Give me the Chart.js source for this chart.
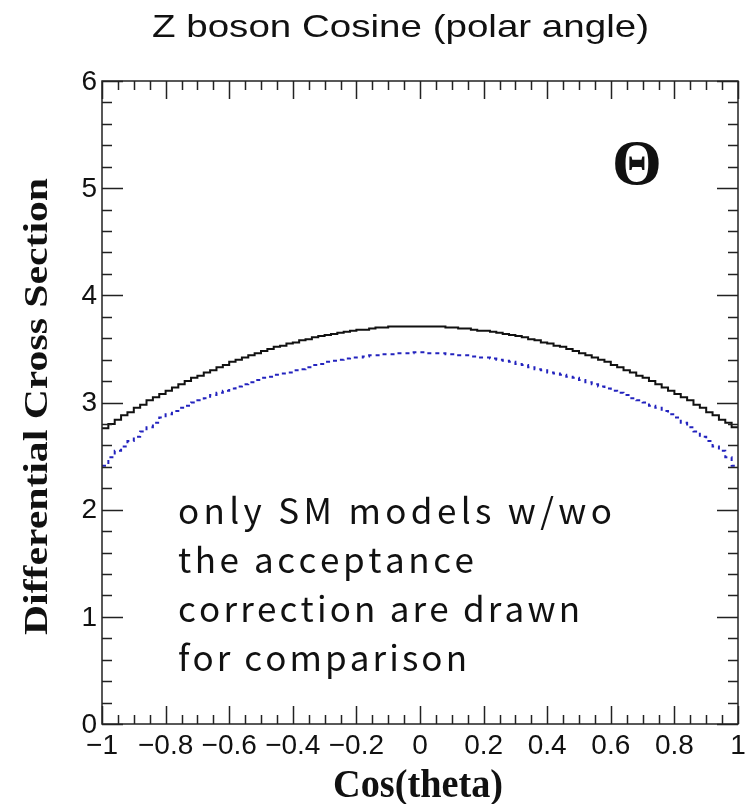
<!DOCTYPE html>
<html>
<head>
<meta charset="utf-8">
<title>Z boson Cosine (polar angle)</title>
<script src="https://cdn.jsdelivr.net/npm/chart.js@4.4.1/dist/chart.umd.min.js"></script>
<style>
  html, body { margin: 0; padding: 0; background: #fff; overflow: hidden; }
  canvas { display: block; }
</style>
</head>
<body>
<canvas id="cosChart" width="745" height="804"></canvas>
<script>
// histogram: 100 bins from -1 to 1
const binLow = -1;
const binWidth = 0.02;

// SM model without acceptance correction (black, solid)
const smNoAcc = [
  2.76, 2.80, 2.84, 2.88, 2.91, 2.95, 2.98, 3.02, 3.05, 3.08,
  3.11, 3.14, 3.17, 3.20, 3.23, 3.25, 3.28, 3.30, 3.33, 3.35,
  3.38, 3.40, 3.42, 3.44, 3.46, 3.48, 3.50, 3.52, 3.53, 3.55,
  3.56, 3.58, 3.59, 3.61, 3.62, 3.63, 3.64, 3.65, 3.66, 3.67,
  3.68, 3.68, 3.69, 3.70, 3.70, 3.71, 3.71, 3.71, 3.71, 3.71,
  3.71, 3.71, 3.71, 3.71, 3.70, 3.70, 3.69, 3.69, 3.68, 3.67,
  3.67, 3.66, 3.65, 3.64, 3.63, 3.62, 3.61, 3.59, 3.58, 3.56,
  3.55, 3.53, 3.52, 3.50, 3.48, 3.46, 3.44, 3.42, 3.40, 3.38,
  3.35, 3.33, 3.30, 3.28, 3.25, 3.23, 3.20, 3.17, 3.14, 3.11,
  3.08, 3.05, 3.02, 2.98, 2.95, 2.91, 2.88, 2.84, 2.81, 2.77
];

// SM model with acceptance correction (blue, dotted)
const smAcc = [
  2.41, 2.49, 2.55, 2.59, 2.64, 2.68, 2.73, 2.77, 2.81, 2.86,
  2.89, 2.92, 2.95, 2.97, 3.00, 3.02, 3.04, 3.07, 3.09, 3.11,
  3.13, 3.15, 3.17, 3.19, 3.21, 3.23, 3.24, 3.26, 3.27, 3.28,
  3.30, 3.31, 3.33, 3.35, 3.36, 3.38, 3.39, 3.40, 3.41, 3.42,
  3.42, 3.43, 3.44, 3.44, 3.45, 3.45, 3.46, 3.46, 3.46, 3.47,
  3.47, 3.46, 3.46, 3.46, 3.45, 3.45, 3.44, 3.44, 3.43, 3.42,
  3.42, 3.41, 3.40, 3.39, 3.38, 3.36, 3.35, 3.33, 3.31, 3.30,
  3.28, 3.27, 3.26, 3.24, 3.23, 3.21, 3.19, 3.17, 3.15, 3.13,
  3.11, 3.09, 3.07, 3.04, 3.02, 3.00, 2.97, 2.95, 2.92, 2.89,
  2.86, 2.81, 2.77, 2.73, 2.68, 2.64, 2.59, 2.55, 2.49, 2.41
];

// axis tick labels
const xTickValues = [-1, -0.8, -0.6, -0.4, -0.2, 0, 0.2, 0.4, 0.6, 0.8, 1];
const xTickLabels = ['\u22121', '\u22120.8', '\u22120.6', '\u22120.4', '\u22120.2', '0', '0.2', '0.4', '0.6', '0.8', '1'];
const yTickValues = [0, 1, 2, 3, 4, 5, 6];
const yTickLabels = ['0', '1', '2', '3', '4', '5', '6'];

const noteLines = ['only SM models w/wo', 'the acceptance', 'correction are drawn', 'for comparison'];

// turn bin contents into step points (left edges + closing right edge)
function toSteps(values) {
  const pts = values.map((v, i) => ({ x: binLow + i * binWidth, y: v }));
  pts.push({ x: binLow + values.length * binWidth, y: values[values.length - 1] });
  return pts;
}

// draw a string stretched horizontally to a given width
function fitText(ctx, text, left, baseline, width) {
  const natural = ctx.measureText(text).width;
  ctx.save();
  ctx.translate(left, baseline);
  ctx.scale(width / natural, 1);
  ctx.fillText(text, 0, 0);
  ctx.restore();
}

// draw a string char by char, spreading the gaps to fill a width
function spreadText(ctx, text, left, baseline, width) {
  const chars = Array.from(text);
  const widths = chars.map(c => ctx.measureText(c).width);
  const natural = widths.reduce((a, b) => a + b, 0);
  const extra = chars.length > 1 ? (width - natural) / (chars.length - 1) : 0;
  let x = left;
  chars.forEach((c, i) => {
    ctx.fillText(c, x, baseline);
    x += widths[i] + extra;
  });
}

const rootFrame = {
  id: 'rootFrame',
  afterDraw(chart) {
    const ctx = chart.ctx;
    const area = chart.chartArea;
    const xs = chart.scales.x;
    const ys = chart.scales.y;
    ctx.save();

    // frame
    ctx.strokeStyle = '#222';
    ctx.lineWidth = 1.5;
    ctx.strokeRect(area.left, area.top, area.right - area.left, area.bottom - area.top);

    // x ticks, bottom and top (inside the frame)
    ctx.beginPath();
    for (let i = 0; i <= 40; i++) {
      const v = -1 + i * 0.05;
      const px = Math.round(xs.getPixelForValue(v)) + 0.5;
      const len = i % 4 === 0 ? 18 : 9;
      ctx.moveTo(px, area.bottom);
      ctx.lineTo(px, area.bottom - len);
      ctx.moveTo(px, area.top);
      ctx.lineTo(px, area.top + len);
    }
    // y ticks, left and right
    for (let i = 0; i <= 30; i++) {
      const v = i * 0.2;
      const py = Math.round(ys.getPixelForValue(v)) + 0.5;
      const len = i % 5 === 0 ? 21 : 10;
      ctx.moveTo(area.left, py);
      ctx.lineTo(area.left + len, py);
      ctx.moveTo(area.right, py);
      ctx.lineTo(area.right - len, py);
    }
    ctx.stroke();

    // tick labels
    ctx.fillStyle = '#111';
    ctx.font = '28px "Liberation Sans", Arial, sans-serif';
    ctx.textAlign = 'center';
    ctx.textBaseline = 'middle';
    xTickValues.forEach((v, i) => {
      ctx.fillText(xTickLabels[i], xs.getPixelForValue(v), area.bottom + 22);
    });
    ctx.textAlign = 'right';
    yTickValues.forEach((v, i) => {
      ctx.fillText(yTickLabels[i], area.left - 5, ys.getPixelForValue(v) + 1);
    });

    // title
    ctx.textAlign = 'left';
    ctx.textBaseline = 'alphabetic';
    ctx.font = '32px "Liberation Sans", Arial, sans-serif';
    fitText(ctx, 'Z boson Cosine (polar angle)', 152, 37, 497);

    // x axis title
    ctx.font = 'bold 39px "Liberation Serif", "Times New Roman", serif';
    fitText(ctx, 'Cos(theta)', 333, 797, 170);

    // y axis title (rotated)
    ctx.save();
    ctx.translate(47, 635);
    ctx.rotate(-Math.PI / 2);
    ctx.font = 'bold 33px "Liberation Serif", "Times New Roman", serif';
    fitText(ctx, 'Differential Cross Section', 0, 0, 457);
    ctx.restore();

    // theta symbol
    ctx.font = 'bold 64px "Liberation Serif", "Times New Roman", serif';
    ctx.textAlign = 'center';
    ctx.textBaseline = 'middle';
    ctx.fillText('\u0398', 637, 167);

    // note
    ctx.textAlign = 'left';
    ctx.textBaseline = 'alphabetic';
    ctx.font = '35px "Noto Sans CJK JP", "Noto Sans", sans-serif';
    const noteWidths = [434, 296, 402, 289];
    noteLines.forEach((line, i) => {
      spreadText(ctx, line, 178, 524 + i * 49, noteWidths[i]);
    });

    ctx.restore();
  }
};

new Chart(document.getElementById('cosChart').getContext('2d'), {
  type: 'line',
  data: {
    datasets: [{
      label: 'SM w/o acceptance',
      data: toSteps(smNoAcc),
      stepped: true,
      borderColor: '#111',
      borderWidth: 2,
      pointRadius: 0,
      fill: false
    }, {
      label: 'SM with acceptance',
      data: toSteps(smAcc),
      stepped: true,
      borderColor: 'rgb(35, 35, 190)',
      borderWidth: 2,
      borderDash: [4, 4],
      pointRadius: 0,
      fill: false
    }]
  },
  options: {
    responsive: false,
    animation: false,
    layout: { padding: { left: 102, right: 7, top: 81, bottom: 80 } },
    scales: {
      x: { type: 'linear', min: -1, max: 1, display: false },
      y: { min: 0, max: 6, display: false }
    },
    plugins: {
      legend: { display: false },
      tooltip: { enabled: false },
      title: { display: false }
    }
  },
  plugins: [rootFrame]
});
</script>
</body>
</html>
